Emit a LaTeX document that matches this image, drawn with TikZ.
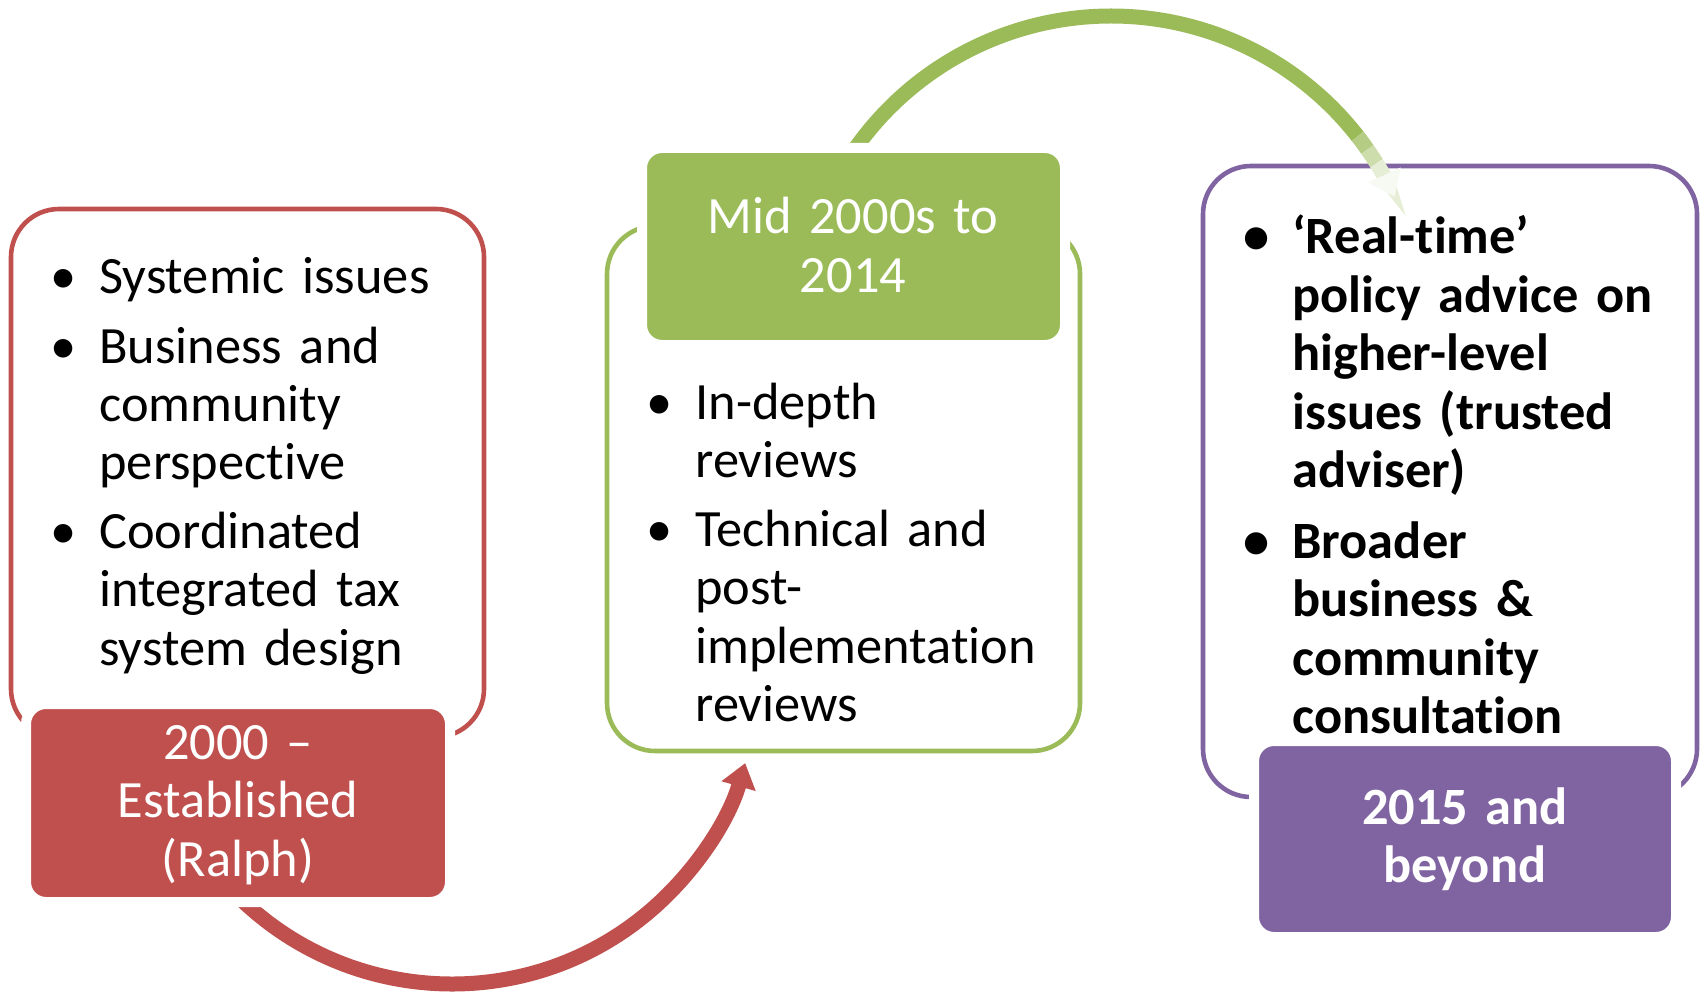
\documentclass[tikz,border=0pt]{standalone}
\usepackage{fontspec}
\setmainfont{Carlito}[Ligatures={TeX,NoCommon}]
\usetikzlibrary{arrows.meta}
\definecolor{cred}{HTML}{C0504D}
\definecolor{cgreen}{HTML}{9BBB59}
\definecolor{cpurple}{HTML}{8064A2}
\newcommand{\bul}{\leavevmode\llap{\makebox[0pt]{\textbullet}\hspace*{18pt}}}
\begin{document}
\begin{tikzpicture}[x=0.5pt,y=-0.5pt,
  outline/.style={rounded corners=24pt, line width=2.3pt, fill=white},
  tagbox/.style={rounded corners=10pt, draw=white, line width=5pt},
  itemtext/.style={anchor=base west, inner sep=0pt, text width=230pt, align=left,
    font=\fontsize{26.2}{29.25}\selectfont},
  tagtext/.style={anchor=base, inner sep=0pt, text width=200pt, align=center, text=white,
    font=\fontsize{26.2}{29.25}\selectfont},
  arrowline/.style={line width=7.5pt},
  tip/.style={-{Triangle[width=17pt,length=12pt]}}]
\useasboundingbox (0,0) rectangle (1700,994);
% outline boxes
\draw[outline, draw=cred] (11,209) rectangle (484,737);
\draw[outline, draw=cgreen] (607,226) rectangle (1080,751);
\draw[outline, draw=cpurple] (1203,166) rectangle (1697,797);
% arrows
\coordinate (redc) at (452,679);
\coordinate (grc) at (1111,329);
\draw[arrowline, cred, tip] ([shift={(138:305)}]redc) arc[start angle=138, end angle=16, radius=305];
\draw[arrowline, cgreen] ([shift={(-150:313)}]grc) arc[start angle=-150, end angle=-38, radius=313];
\draw[arrowline, cgreen!75] ([shift={(-38:313)}]grc) arc[start angle=-38, end angle=-35, radius=313];
\draw[arrowline, cgreen!50] ([shift={(-35:313)}]grc) arc[start angle=-35, end angle=-32, radius=313];
\draw[arrowline, cgreen!25, -{Triangle[width=17pt,length=12pt,color=cgreen!8]}] ([shift={(-32:313)}]grc) arc[start angle=-32, end angle=-25, radius=313];
% tag boxes
\filldraw[tagbox, fill=cred] (26,704) rectangle (450,902);
\filldraw[tagbox, fill=cgreen] (642,148) rectangle (1065,345);
\filldraw[tagbox, fill=cpurple] (1254,741) rectangle (1676,937);
% texts
\node[itemtext] (l1) at (99,294) {\bul Systemic issues};
\node[itemtext] (l2) at (99,363) {\bul Business and\\community\\perspective};
\node[itemtext] (l3) at (99,548) {\bul Coordinated\\integrated tax\\system design};
\node[tagtext] (rl) at (238,759) {2000 –\\Established\\(Ralph)};
\node[tagtext] (gl) at (853,234) {Mid 2000s to\\2014};
\node[itemtext] (m1) at (695,419) {\bul In-depth\\reviews};
\node[itemtext] (m2) at (695,546) {\bul Technical and\\post-\\implementation\\reviews};
\node[itemtext, font=\fontsize{26.2}{29.25}\selectfont\bfseries] (r1) at (1292,254) {\bul ‘Real-time’\\policy advice on\\higher-level\\issues (trusted\\adviser)};
\node[itemtext, font=\fontsize{26.2}{29.25}\selectfont\bfseries] (r2) at (1292,558) {\bul Broader\\business \&\\community\\consultation};
\node[tagtext, font=\fontsize{26.2}{29.25}\selectfont\bfseries] (pl) at (1465,824) {2015 and\\beyond};
\end{tikzpicture}
\end{document}
